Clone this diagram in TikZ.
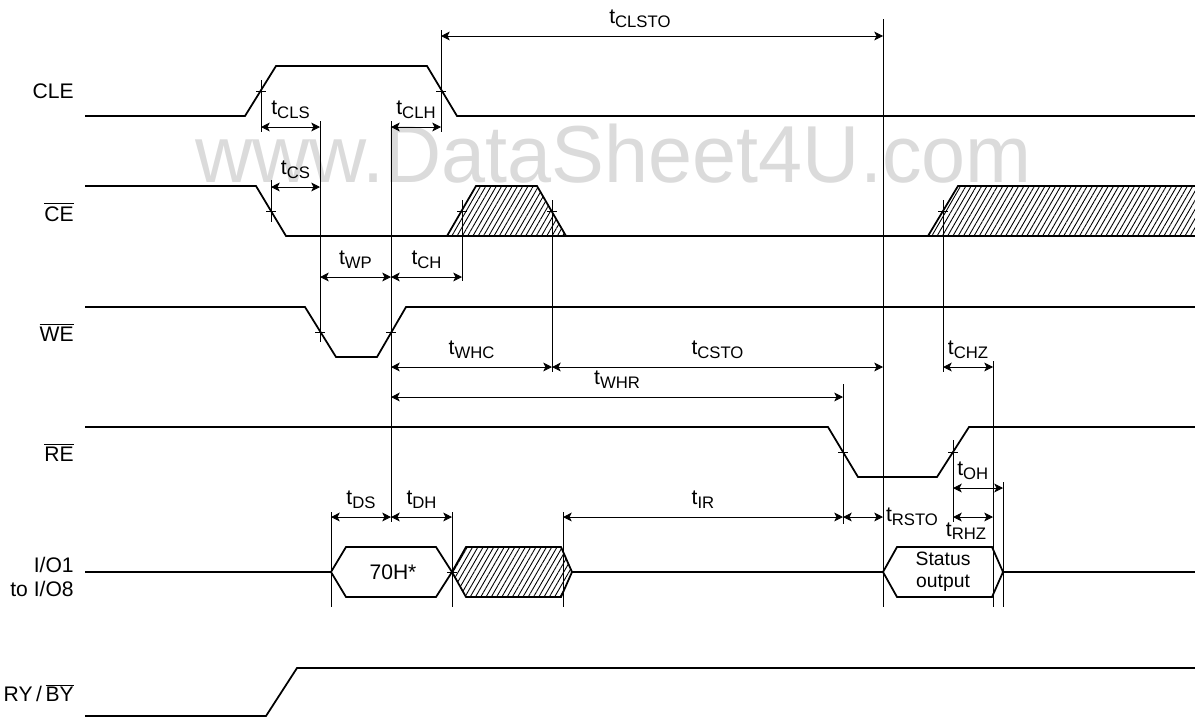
\documentclass[tikz,border=0pt]{standalone}
\usepackage{fontspec}
\setmainfont{Liberation Sans}
\usepackage{tikz}
\usetikzlibrary{arrows.meta,patterns.meta}
\newcommand{\tp}[1]{t\raisebox{-2pt}{\fontsize{9.5}{10}\selectfont #1}}
\newcommand{\ovl}[1]{$\overline{\mbox{#1}}$}

\begin{document}
\begin{tikzpicture}[x=0.02cm, y=-0.02cm,
  sig/.style={line width=1pt, line join=miter},
  guide/.style={line width=0.45pt},
  dim/.style={line width=0.45pt, {Stealth[length=5pt,width=5pt,inset=1.3pt]}-{Stealth[length=5pt,width=5pt,inset=1.3pt]}},
  lbl/.style={font=\fontsize{12}{14}\selectfont, anchor=base, yshift=7pt, inner sep=0pt},
  signame/.style={font=\fontsize{12}{14}\selectfont, anchor=east, align=right, inner sep=0pt},
  hatch/.style={pattern={Lines[angle=60,distance=2.6pt,line width=0.5pt]}}]
\useasboundingbox (0,0) rectangle (1195,717);
\node[font=\fontsize{46}{50}\selectfont, text=black!14, anchor=base west, inner sep=0pt] (wm) at (195,182) {\scalebox{0.98}[1]{www.DataSheet4U.com}};

% signal names
\node[signame] (nCLE) at (74,91) {CLE};
\node[signame] (nCE) at (74,212) {\ovl{CE}};
\node[signame] (nWE) at (74,332) {\ovl{WE}};
\node[signame] (nRE) at (74,452) {\ovl{RE}};
\node[signame] (nIO) at (74,577) {I/O1\\to I/O8};
\node[signame] (nRY) at (74,693) {RY\,/\,\ovl{BY}};

% waveforms
\draw[sig] (85,116) -- (245,116) -- (276,66) -- (427,66) -- (457,116) -- (1195,116);
\draw[sig] (85,186) -- (256,186) -- (286,236) -- (1195,236);
\draw[sig, hatch] (447,236) -- (476,186) -- (537,186) -- (566,236);
\fill[hatch] (928,236) -- (958,186) -- (1195,186) -- (1195,236) -- cycle;
\draw[sig] (928,236) -- (958,186) -- (1195,186);
\draw[sig] (85,307) -- (305,307) -- (336,357) -- (377,357) -- (406,307) -- (1195,307);
\draw[sig] (85,427) -- (828,427) -- (858,477) -- (937,477) -- (969,427) -- (1195,427);
\draw[sig] (85,572) -- (331,572);
\draw[sig] (331,572) -- (346,547) -- (436,547) -- (452,572) -- (436,597) -- (346,597) -- cycle;
\draw[sig, hatch] (452,572) -- (466,547) -- (561,547) -- (572,572) -- (561,597) -- (466,597) -- cycle;
\draw[sig] (572,572) -- (883,572);
\draw[sig] (883,572) -- (897,547) -- (992,547) -- (1003,572) -- (992,597) -- (897,597) -- cycle;
\draw[sig] (1003,572) -- (1195,572);
\draw[sig] (85,716) -- (266,716) -- (297,668) -- (1195,668);
\node[font=\fontsize{12}{14}\selectfont] (d70) at (393,572) {70H*};
\node[font=\fontsize{11}{12.3}\selectfont, align=center] (stat) at (943,572) {Status\\output};

% reference points
\coordinate (cleR) at (261,91);  \coordinate (cleF) at (441,91);
\coordinate (ceF) at (271,211);  \coordinate (ceR1) at (462,211);
\coordinate (ceF1) at (552,211); \coordinate (ceR2) at (943,211);
\coordinate (weF) at (320,332);  \coordinate (weR) at (391,332);
\coordinate (reF) at (843,452);  \coordinate (reR) at (953,452);
\coordinate (ioS) at (331,572);  \coordinate (ioX) at (452,572);
\coordinate (ioE) at (563,572);  \coordinate (stS) at (883,572);
\coordinate (stZ) at (993,572);  \coordinate (stE) at (1003,572);

\foreach \p in {cleR,cleF,ceF,ceR1,ceF1,ceR2,weF,weR,reF,reR,ioX}
  \draw[guide] (\p) +(-5,0) -- +(5,0);
\foreach \p/\a/\b in {cleR/80/132, cleF/30/132, weF/121/342, weR/121/522, stS/19/607,
    ceF/180/222, ceR1/200/281, ceF1/200/372, ceR2/200/372, stZ/361/607, reF/384/524,
    reR/440/522, stE/482/607, ioS/512/607, ioX/512/607, ioE/512/607}
  \draw[guide] (\p |- 0,\a) -- (\p |- 0,\b);

% timing arrows
\draw[dim] (cleF |- 0,36) -- node[lbl, pos=0.45] {\tp{CLSTO}} (stS |- 0,36);
\draw[dim] (cleR |- 0,127) -- node[lbl] {\tp{CLS}} (weF |- 0,127);
\draw[dim] (weR |- 0,127) -- node[lbl] {\tp{CLH}} (cleF |- 0,127);
\draw[dim] (ceF |- 0,187) -- node[lbl] {\tp{CS}} (weF |- 0,187);
\draw[dim] (weF |- 0,277) -- node[lbl] {\tp{WP}} (weR |- 0,277);
\draw[dim] (weR |- 0,277) -- node[lbl] {\tp{CH}} (ceR1 |- 0,277);
\draw[dim] (weR |- 0,367) -- node[lbl] {\tp{WHC}} (ceF1 |- 0,367);
\draw[dim] (ceF1 |- 0,367) -- node[lbl] {\tp{CSTO}} (stS |- 0,367);
\draw[dim] (ceR2 |- 0,367) -- node[lbl] {\tp{CHZ}} (stZ |- 0,367);
\draw[dim] (weR |- 0,397) -- node[lbl] {\tp{WHR}} (reF |- 0,397);
\draw[dim] (reR |- 0,488) -- node[lbl, xshift=-3pt] {\tp{OH}} (stE |- 0,488);
\draw[dim] (ioS |- 0,517) -- node[lbl] {\tp{DS}} (weR |- 0,517);
\draw[dim] (weR |- 0,517) -- node[lbl] {\tp{DH}} (ioX |- 0,517);
\draw[dim] (ioE |- 0,517) -- node[lbl] {\tp{IR}} (reF |- 0,517);
\draw[dim] (reF |- 0,517) -- (stS |- 0,517) node[font=\fontsize{12}{14}\selectfont, anchor=west, inner sep=1.5pt] (rsto) {\tp{RSTO}};
\draw[dim] (reR |- 0,517) -- node[font=\fontsize{12}{14}\selectfont, anchor=north, yshift=-3pt, xshift=-4pt, inner sep=0pt] (rhz) {\tp{RHZ}} (stZ |- 0,517);
\end{tikzpicture}
\end{document}
